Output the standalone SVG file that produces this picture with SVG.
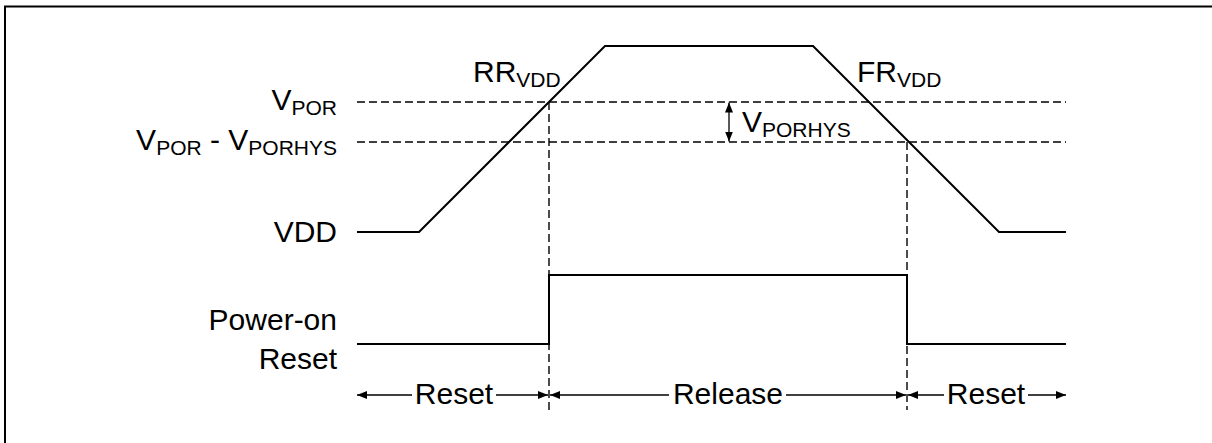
<svg xmlns="http://www.w3.org/2000/svg" width="1212" height="443" viewBox="0 0 1212 443">
<style>
text{font-family:"Liberation Sans",Arial,sans-serif;font-size:30px;fill:#000}
.sub{font-size:21px}
.wave{fill:none;stroke:#000;stroke-width:2}
.dash{fill:none;stroke:#000;stroke-width:1.4;stroke-dasharray:8,4}
.arr{fill:none;stroke:#000;stroke-width:1.3}
</style>
<defs>
<marker id="ah" viewBox="0 0 10 8" refX="10" refY="4" markerWidth="10" markerHeight="8" markerUnits="userSpaceOnUse" orient="auto-start-reverse">
<path d="M0,0 L10,4 L0,8 z" fill="#000"/>
</marker>
</defs>
<g id="frame">
<path d="M5,443 V6.5 H1212" fill="none" stroke="#000" stroke-width="2"/>
</g>
<g id="labels">
<text x="337" y="110" text-anchor="end">V<tspan class="sub" dy="5">POR</tspan></text>
<text x="337" y="150" text-anchor="end">V<tspan class="sub" dy="5">POR</tspan><tspan dy="-5"> - V</tspan><tspan class="sub" dy="5">PORHYS</tspan></text>
<text x="337" y="242" text-anchor="end">VDD</text>
<text x="337" y="330" text-anchor="end">Power-on</text>
<text x="337" y="369" text-anchor="end">Reset</text>
</g>
<g id="connectors">
<line class="dash" x1="357" y1="102" x2="1066" y2="102"/>
<line class="dash" x1="357" y1="142" x2="1066" y2="142"/>
<line class="dash" x1="549" y1="102" x2="549" y2="410"/>
<line class="dash" x1="907" y1="142" x2="907" y2="410"/>
<line class="arr" x1="729" y1="102.5" x2="729" y2="141.5" marker-start="url(#ah)" marker-end="url(#ah)"/>
<line class="arr" x1="357" y1="395" x2="412" y2="395" marker-start="url(#ah)"/>
<line class="arr" x1="496" y1="395" x2="548" y2="395" marker-end="url(#ah)"/>
<line class="arr" x1="550" y1="395" x2="669" y2="395" marker-start="url(#ah)"/>
<line class="arr" x1="786" y1="395" x2="906" y2="395" marker-end="url(#ah)"/>
<line class="arr" x1="908" y1="395" x2="944" y2="395" marker-start="url(#ah)"/>
<line class="arr" x1="1028" y1="395" x2="1066" y2="395" marker-end="url(#ah)"/>
</g>
<g id="vdd-wave">
<polyline class="wave" points="357,232 419,232 605,46 813,46 999,232 1066,232"/>
<text x="473" y="82">RR<tspan class="sub" dy="5">VDD</tspan></text>
<text x="857" y="82">FR<tspan class="sub" dy="5">VDD</tspan></text>
<text x="742" y="132">V<tspan class="sub" dy="5">PORHYS</tspan></text>
</g>
<g id="por-wave">
<polyline class="wave" points="357,344 549,344 549,275 907,275 907,344 1066,344"/>
</g>
<g id="phase-labels">
<text x="454" y="404" text-anchor="middle">Reset</text>
<text x="728" y="404" text-anchor="middle">Release</text>
<text x="986" y="404" text-anchor="middle">Reset</text>
</g>
</svg>
